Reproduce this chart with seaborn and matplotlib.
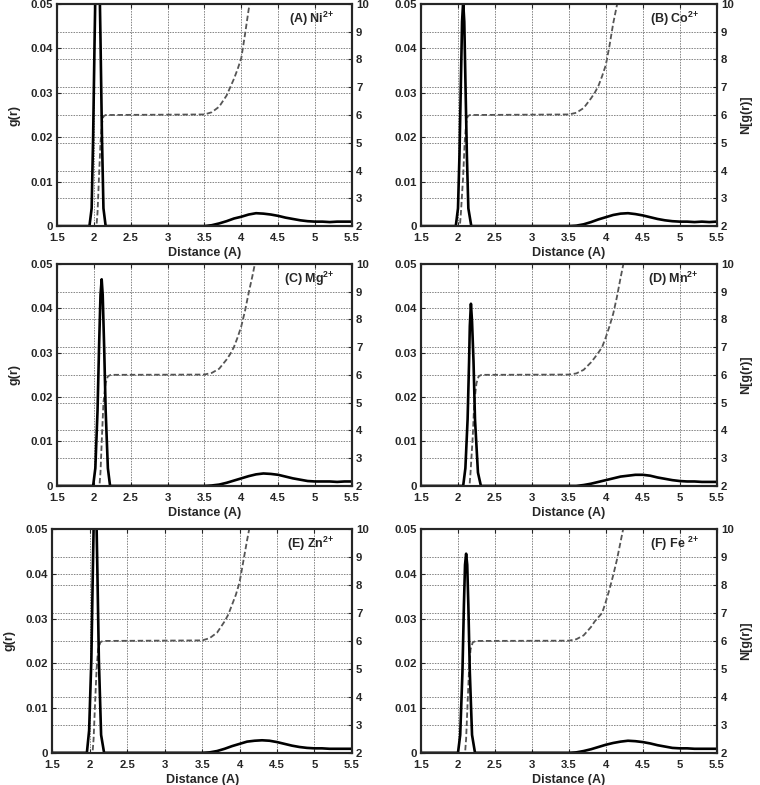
import numpy as np
import matplotlib
matplotlib.use("Agg")
import matplotlib.pyplot as plt
import seaborn as sns

sns.set_style("ticks")
plt.rcParams["font.family"] = ["Liberation Sans", "DejaVu Sans"]
plt.rcParams["font.weight"] = "bold"
plt.rcParams["mathtext.fontset"] = "custom"
plt.rcParams["mathtext.bf"] = "Liberation Sans:bold"
plt.rcParams["mathtext.rm"] = "Liberation Sans:bold"
plt.rcParams["mathtext.default"] = "bf"

# panel labels
panels = ["(A) Ni$^{2{+}}$", "(B) Co$^{2{+}}$", "(C) Mg$^{2{+}}$",
          "(D) Mn$^{2{+}}$", "(E) Zn$^{2{+}}$", "(F) Fe $^{2{+}}$"]

# first-shell peak of g(r)
peak_r = [
    [1.94, 1.97, 1.99, 2.01, 2.03, 2.05, 2.07, 2.09, 2.11, 2.13, 2.16],
    [1.97, 2.00, 2.02, 2.04, 2.055, 2.07, 2.085, 2.10, 2.12, 2.14, 2.18],
    [1.99, 2.02, 2.05, 2.07, 2.09, 2.106, 2.12, 2.14, 2.16, 2.19, 2.22],
    [2.07, 2.10, 2.13, 2.15, 2.16, 2.175, 2.19, 2.21, 2.23, 2.27, 2.31],
    [1.96, 1.99, 2.02, 2.04, 2.055, 2.07, 2.085, 2.10, 2.12, 2.15, 2.19],
    [2.00, 2.03, 2.06, 2.08, 2.095, 2.11, 2.125, 2.14, 2.16, 2.19, 2.23],
]
peak_g = [
    [0, 0.004, 0.020, 0.042, 0.062, 0.070, 0.062, 0.042, 0.020, 0.004, 0],
    [0, 0.004, 0.016, 0.033, 0.046, 0.0505, 0.046, 0.033, 0.016, 0.004, 0],
    [0, 0.004, 0.017, 0.031, 0.043, 0.0465, 0.043, 0.031, 0.017, 0.004, 0],
    [0, 0.004, 0.015, 0.028, 0.036, 0.041, 0.037, 0.028, 0.015, 0.003, 0],
    [0, 0.005, 0.021, 0.041, 0.055, 0.058, 0.055, 0.041, 0.021, 0.004, 0],
    [0, 0.004, 0.018, 0.033, 0.042, 0.0445, 0.042, 0.033, 0.018, 0.004, 0],
]

# second shell of g(r)
tail_r = [3.4, 3.5, 3.6, 3.7, 3.8, 3.9, 4.0, 4.1, 4.2, 4.3, 4.4,
          4.5, 4.6, 4.7, 4.8, 4.9, 5.0, 5.1, 5.2, 5.3, 5.4, 5.5]
tail_g = [
    [0, 0, 0.0002, 0.0006, 0.0011, 0.0017, 0.0021, 0.0026, 0.0029, 0.0028, 0.0026,
     0.0023, 0.0019, 0.0016, 0.0013, 0.0011, 0.0010, 0.0010, 0.0009, 0.0010, 0.0010, 0.0010],
    [0, 0, 0.0001, 0.0004, 0.0009, 0.0015, 0.0020, 0.0025, 0.0028, 0.0029, 0.0027,
     0.0024, 0.0020, 0.0016, 0.0013, 0.0011, 0.0010, 0.0010, 0.0009, 0.0010, 0.0009, 0.0010],
    [0, 0, 0.0001, 0.0003, 0.0007, 0.0012, 0.0017, 0.0022, 0.0026, 0.0028, 0.0027,
     0.0025, 0.0021, 0.0017, 0.0014, 0.0011, 0.0010, 0.0010, 0.0010, 0.0009, 0.0010, 0.0010],
    [0, 0, 0, 0.0002, 0.0005, 0.0009, 0.0013, 0.0017, 0.0021, 0.0023, 0.0025,
     0.0025, 0.0023, 0.0019, 0.0016, 0.0013, 0.0011, 0.0010, 0.0010, 0.0009, 0.0009, 0.0009],
    [0, 0, 0.0001, 0.0004, 0.0009, 0.0015, 0.0020, 0.0025, 0.0027, 0.0028, 0.0027,
     0.0024, 0.0020, 0.0016, 0.0013, 0.0011, 0.0010, 0.0010, 0.0009, 0.0009, 0.0009, 0.0009],
    [0, 0, 0.0001, 0.0004, 0.0008, 0.0013, 0.0018, 0.0022, 0.0025, 0.0027, 0.0026,
     0.0024, 0.0021, 0.0017, 0.0014, 0.0011, 0.0010, 0.0010, 0.0009, 0.0009, 0.0009, 0.0009],
]

# running coordination number N[g(r)]
n_step_r = [
    [2.03, 2.05, 2.07, 2.09, 2.11, 2.13, 2.16],
    [2.02, 2.04, 2.07, 2.09, 2.11, 2.13, 2.16],
    [2.07, 2.09, 2.11, 2.13, 2.16, 2.19, 2.23],
    [2.15, 2.17, 2.20, 2.22, 2.25, 2.28, 2.32],
    [2.03, 2.05, 2.07, 2.09, 2.11, 2.14, 2.17],
    [2.09, 2.11, 2.13, 2.15, 2.17, 2.20, 2.24],
]
n_step = [1.8, 2.5, 3.8, 5.0, 5.7, 5.95, 6.0]
n_rise_r = [3.5, 3.6, 3.7, 3.8, 3.85, 3.9, 3.95, 4.0, 4.05, 4.1, 4.15, 4.2, 4.25, 4.3]
n_rise = [
    [6.02, 6.1, 6.3, 6.7, 7.0, 7.3, 7.65, 8.05, 8.9, 9.8, 10.6, 11.4, 12.0, 12.6],
    [6.02, 6.08, 6.25, 6.6, 6.8, 7.05, 7.4, 7.8, 8.5, 9.3, 9.95, 10.7, 11.4, 12.0],
    [6.01, 6.07, 6.22, 6.55, 6.75, 7.0, 7.35, 7.75, 8.3, 8.95, 9.55, 10.2, 10.9, 11.5],
    [6.01, 6.05, 6.18, 6.45, 6.62, 6.8, 7.0, 7.35, 7.75, 8.2, 8.8, 9.5, 10.15, 10.8],
    [6.02, 6.1, 6.3, 6.7, 6.95, 7.3, 7.65, 8.1, 8.85, 9.6, 10.3, 11.0, 11.7, 12.3],
    [6.01, 6.06, 6.2, 6.5, 6.7, 6.85, 7.0, 7.4, 7.85, 8.35, 8.9, 9.55, 10.2, 10.8],
]

x_ticks = [1.5, 2, 2.5, 3, 3.5, 4, 4.5, 5, 5.5]
g_ticks = [0, 0.01, 0.02, 0.03, 0.04, 0.05]
n_ticks = [2, 3, 4, 5, 6, 7, 8, 9, 10]

# axes rectangles in figure fraction (left, bottom, width, height)
rects = [
    (0.075, 0.712, 0.388, 0.283), (0.554, 0.712, 0.389, 0.283),
    (0.075, 0.381, 0.388, 0.283), (0.554, 0.381, 0.389, 0.283),
    (0.069, 0.041, 0.394, 0.285), (0.554, 0.041, 0.389, 0.285),
]

fig = plt.figure(figsize=(7.6, 7.85), dpi=100)
grid_kw = dict(color="#666666", lw=0.55, ls=(0, (2, 1.5)))

for i in range(6):
    ax = fig.add_axes(rects[i])
    ax2 = ax.twinx()

    r_g = [1.5] + peak_r[i] + tail_r
    g = [0] + peak_g[i] + tail_g[i]
    r_n = n_step_r[i] + n_rise_r
    n = n_step + n_rise[i]

    sns.lineplot(x=r_n, y=n, ax=ax2, color="#555555", lw=1.3,
                 linestyle=(0, (3, 1.5)), estimator=None, sort=False)
    sns.lineplot(x=r_g, y=g, ax=ax, color="black", lw=1.9,
                 estimator=None, sort=False)
    ax.set_zorder(ax2.get_zorder() + 1)
    ax.patch.set_visible(False)

    ax.set_xlim(1.5, 5.5)
    ax.set_ylim(0, 0.05)
    ax2.set_ylim(2, 10)
    ax.set_xticks(x_ticks)
    ax.set_xticklabels([f"{t:g}" for t in x_ticks])
    ax.set_yticks(g_ticks)
    ax.set_yticklabels([f"{t:g}" for t in g_ticks])
    ax2.set_yticks(n_ticks)
    ax2.set_yticklabels([str(t) for t in n_ticks])

    ax.grid(True, axis="both", **grid_kw)
    ax2.grid(True, axis="y", **grid_kw)

    ax.tick_params(direction="in", length=3, width=0.8, labelsize=8.2,
                   top=True, pad=3)
    ax.tick_params(axis="x", pad=5)
    ax2.tick_params(direction="in", length=3, width=0.8, labelsize=8.2, pad=3)
    for a in (ax, ax2):
        for s in a.spines.values():
            s.set_linewidth(1.5)
            s.set_visible(True)

    ax.set_xlabel("Distance (A)", fontsize=9, fontweight="bold", labelpad=3)
    if i % 2 == 0:
        ax.set_ylabel("g(r)", fontsize=9, fontweight="bold")
        ax.yaxis.set_label_coords(-0.125, 0.5)
        ax2.set_ylabel("")
    else:
        ax.set_ylabel("")
        ax2.set_ylabel("N[g(r)]", fontsize=9, fontweight="bold")
        ax2.yaxis.set_label_coords(1.08, 0.5)

    ax.text(0.94, 0.975, panels[i], transform=ax.transAxes, ha="right",
            va="top", fontsize=9, fontweight="bold")

fig.savefig("out.png", dpi=100)
